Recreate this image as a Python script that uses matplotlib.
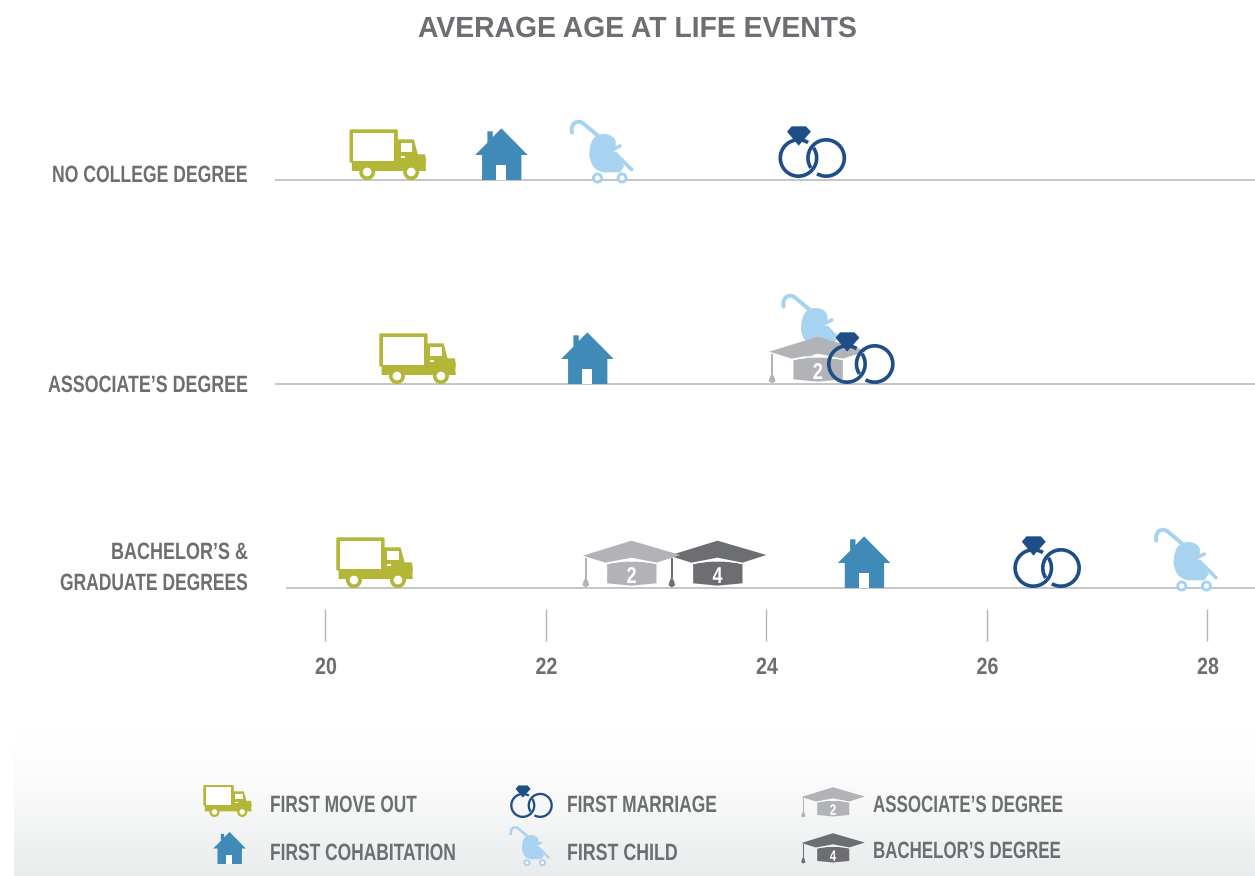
import numpy as np
import matplotlib
matplotlib.use('Agg')
from matplotlib import pyplot as plt
from matplotlib import patches
from matplotlib.path import Path
from matplotlib.patheffects import AbstractPathEffect
from matplotlib.transforms import Affine2D

plt.rcParams['font.family'] = ['Liberation Sans', 'DejaVu Sans']
plt.rcParams['font.weight'] = 'bold'

# ages, one per row (no college, associate, bachelor)
row_labels = ['NO COLLEGE DEGREE', 'ASSOCIATE\u2019S DEGREE', 'BACHELOR\u2019S &', 'GRADUATE DEGREES']
move_out_ages = [20.57, 20.84, 20.45]
cohabit_ages = [21.60, 22.38, 24.89]
child_ages = [22.50, 24.42, 27.80]
marriage_ages = [24.42, 24.86, 26.55]
assoc_cap_ages = [None, 24.47, 22.78]
bach_cap_ages = [None, None, 23.56]
tick_ages = [20, 22, 24, 26, 28]
legend_labels = ['FIRST MOVE OUT', 'FIRST COHABITATION', 'FIRST MARRIAGE', 'FIRST CHILD',
                 'ASSOCIATE\u2019S DEGREE', 'BACHELOR\u2019S DEGREE']

GREEN = '#b4b638'
BLUE = '#3f8ab7'
LIGHT = '#a8d3f0'
NAVY = '#1f4e87'
CAP2 = '#b1b3b6'
CAP4 = '#6d6e71'
TEXT = '#6d6e71'
LINE = '#b3b5b7'

W, H = 1255, 876
PX_PER_YEAR = 110.25
row_y = [180, 384, 588]
row_start = [275, 275, 286]
child_lift = [0, 30, 0]
ring_lift = [2, 0, 0]

fig = plt.figure(figsize=(W / 100, H / 100), dpi=100, facecolor='white')
renderer = fig.canvas.get_renderer()

# grey fade behind the legend
bg = fig.add_axes([14 / W, 0, 1 - 14 / W, 146 / H], zorder=0)
fade = np.linspace(0, 1, 146).reshape(-1, 1, 1) ** 1.5
bg.imshow((255 - fade * np.array([22, 20, 19])).astype(np.uint8), aspect='auto')
bg.axis('off')

ax = fig.add_axes([0, 0, 1, 1], zorder=1)
ax.patch.set_alpha(0)
ax.set_xlim(20 - 325 / PX_PER_YEAR, 20 + (W - 325) / PX_PER_YEAR)
ax.set_ylim(H, 0)
ax.axis('off')


class Squeeze(AbstractPathEffect):
    # the reference font is condensed, none installed is, so narrow the drawn glyphs
    def __init__(self, x0, sx):
        super().__init__()
        self.x0 = x0
        self.sx = sx

    def draw_path(self, renderer, gc, tpath, affine, rgbFace=None):
        squeeze = Affine2D().translate(-self.x0, 0).scale(self.sx, 1).translate(self.x0, 0)
        renderer.draw_path(gc, tpath, affine + squeeze, rgbFace)


def age_px(age):
    return ax.transData.transform((age, 0))[0]


def px_age(x):
    return 20 + (x - 325) / PX_PER_YEAR


def fit_text(x0, y, s, width, size, ha='left', color=TEXT, z=8):
    t = ax.text(px_age(x0), y, s, color=color, fontsize=size, ha=ha, va='baseline', zorder=z)
    t.set_path_effects([Squeeze(x0, width / t.get_window_extent(renderer).width)])
    return t


def icon_tf(px, py, scale):
    # icon shapes are drawn in 3x pixels, y up, origin on the baseline
    return Affine2D().scale(scale / 3, scale / 3).translate(px, H - py)


def poly(tf, pts, color, z):
    ax.add_patch(patches.Polygon(pts, closed=True, fc=color, ec='none', transform=tf, zorder=z, clip_on=False))


def circle(tf, xy, r, color, z):
    ax.add_patch(patches.Circle(xy, r, fc=color, ec='none', transform=tf, zorder=z, clip_on=False))


def truck(px, py, scale=1, z=3):
    tf = icon_tf(px, py, scale)
    poly(tf, [(-112, 152), (27, 152), (30, 149), (30, 122), (78, 122), (90, 77), (112, 77), (115, 57),
              (113, 42), (115, 27), (-108, 27), (-108, 52), (-112, 52), (-115, 55), (-115, 149)], GREEN, z)
    poly(tf, [(-104, 142), (19, 142), (19, 57), (-104, 57)], 'white', z + 0.1)
    poly(tf, [(38, 110), (72, 110), (72, 84), (38, 84)], 'white', z + 0.1)
    poly(tf, [(38, 72), (50, 72), (50, 66), (38, 66)], 'white', z + 0.1)
    for cx in (-62, 70):
        circle(tf, (cx, 24), 24, GREEN, z + 0.2)
        circle(tf, (cx, 24), 13, 'white', z + 0.3)


def house(px, py, scale=1, z=3):
    tf = icon_tf(px, py, scale)
    poly(tf, [(0, 155), (79, 75), (60, 75), (60, 0), (-58, 0), (-58, 75), (-79, 75),
              (-42, 112), (-42, 146), (-26, 146), (-26, 129)], BLUE, z)
    poly(tf, [(-16, 45), (14, 45), (14, 0), (-16, 0)], 'white', z + 0.1)


def stroller(px, py, scale=1, z=3):
    tf = icon_tf(px, py, scale)
    lw = 12 * scale / 3 * 0.72
    handle = Path([(-86, 142), (-90, 160), (-78, 171), (-64, 180), (-50, 168), (-1, 127)],
                  [Path.MOVETO, Path.CURVE3, Path.CURVE3, Path.CURVE3, Path.CURVE3, Path.LINETO])
    ax.add_patch(patches.PathPatch(handle, fc='none', ec=LIGHT, lw=lw, capstyle='round',
                                   transform=tf, zorder=z, clip_on=False))
    body = Path([(-14, 130), (10, 142), (25, 134), (48, 128), (44, 102), (36, 87), (47, 77), (70, 42),
                 (58, 24), (8, 24), (-21, 30), (-28, 55), (-33, 70), (-33, 118), (-14, 130)],
                [Path.MOVETO, Path.CURVE3, Path.CURVE3, Path.CURVE3, Path.CURVE3, Path.LINETO, Path.LINETO,
                 Path.LINETO, Path.LINETO, Path.LINETO, Path.CURVE3, Path.CURVE3, Path.LINETO, Path.CURVE3,
                 Path.CURVE3])
    ax.add_patch(patches.PathPatch(body, fc=LIGHT, ec=LIGHT, lw=2 * scale / 3 * 0.72, joinstyle='round',
                                   transform=tf, zorder=z, clip_on=False))
    for seg in ([(38, 92), (58, 102)], [(44, 80), (93, 31)]):
        xs, ys = zip(*seg)
        ax.plot(xs, ys, color=LIGHT, lw=lw * 0.9, solid_capstyle='round', transform=tf, zorder=z, clip_on=False)
    for cx in (-9.5, 64.5):
        ax.add_patch(patches.Circle((cx, 6), 12, fc='white', ec=LIGHT, lw=9 * scale / 3 * 0.72,
                                    transform=tf, zorder=z + 0.1, clip_on=False))


def rings(px, py, scale=1, z=5):
    tf = icon_tf(px, py, scale)
    # left ring passes under the right one at the top crossing, over it at the bottom one
    ax.add_patch(patches.Wedge((-41.5, 60), 60, 58, 394, width=11, fc=NAVY, ec='none',
                               transform=tf, zorder=z, clip_on=False))
    ax.add_patch(patches.Wedge((41.5, 60), 60, 240, 573, width=11, fc=NAVY, ec='none',
                               transform=tf, zorder=z, clip_on=False))
    poly(tf, [(-76, 139), (-62, 155), (-19, 155), (-4, 139), (-41, 97)], NAVY, z + 0.1)


def cap(px, py, color, number, scale=1, z=4):
    tf = icon_tf(px, py, scale)
    poly(tf, [(-146, 97), (0, 142), (147, 99), (75, 76), (0, 91), (-78, 76)], color, z)
    top = Path([(-73, 73), (0, 91), (75, 73)], [Path.MOVETO, Path.CURVE3, Path.CURVE3])
    body = Path([(-73, 72), (0, 88), (75, 72), (75, 14), (0, 7), (-73, 14), (-73, 72)],
                [Path.MOVETO, Path.CURVE3, Path.CURVE3, Path.LINETO, Path.LINETO, Path.LINETO, Path.LINETO])
    ax.add_patch(patches.PathPatch(body, fc=color, ec='none', transform=tf, zorder=z, clip_on=False))
    ax.add_patch(patches.PathPatch(top, fc='none', ec='white', lw=0.8 * scale, transform=tf, zorder=z + 0.1,
                                   clip_on=False))
    poly(tf, [(-140, 91), (-134, 91), (-134, 30), (-140, 30)], color, z)
    poly(tf, [(-137, 34), (-130, 20), (-127, 8), (-137, 2), (-147, 8), (-144, 20)], color, z)
    fit_text(px, py - 5 * scale, number, 10 * scale, 16.5 * scale, ha='center', color='white', z=z + 0.5)


# row lines, axis ticks
for y, start in zip(row_y, row_start):
    ax.plot([px_age(start), ax.get_xlim()[1]], [y, y], color=LINE, lw=1.1, zorder=1, solid_capstyle='butt')
ax.vlines(tick_ages, 609, 641, color=LINE, lw=1.0, zorder=1)
for age in tick_ages:
    fit_text(age_px(age) + 1, 674, str(age), 22, 17, ha='center')

fit_text(418, 37, 'AVERAGE AGE AT LIFE EVENTS', 439, 21)

fit_text(52, 182, row_labels[0], 196, 17)
fit_text(48, 392, row_labels[1], 200, 17)
fit_text(111, 559, row_labels[2], 137, 17)
fit_text(60, 590, row_labels[3], 188, 17)

for i, y in enumerate(row_y):
    truck(age_px(move_out_ages[i]), y)
    house(age_px(cohabit_ages[i]), y)
    stroller(age_px(child_ages[i]), y - child_lift[i], z=2)
    rings(age_px(marriage_ages[i]), y - ring_lift[i])
    if assoc_cap_ages[i] is not None:
        cap(age_px(assoc_cap_ages[i]), y, CAP2, '2')
    if bach_cap_ages[i] is not None:
        cap(age_px(bach_cap_ages[i]), y, CAP4, '4', z=3.5)

# legend
truck(227.5, 817, 0.63)
house(229.5, 864, 0.62)
rings(531.5, 818, 0.63)
stroller(529, 864, 0.63)
cap(833, 818, CAP2, '2', 0.65)
cap(833, 864, CAP4, '4', 0.65)

fit_text(270, 812, legend_labels[0], 147, 17)
fit_text(270, 860, legend_labels[1], 186, 17)
fit_text(567, 812, legend_labels[2], 150, 17)
fit_text(567, 860, legend_labels[3], 111, 17)
fit_text(873, 812, legend_labels[4], 190, 17)
fit_text(873, 858, legend_labels[5], 188, 17)

fig.savefig('out.png', dpi=100)
